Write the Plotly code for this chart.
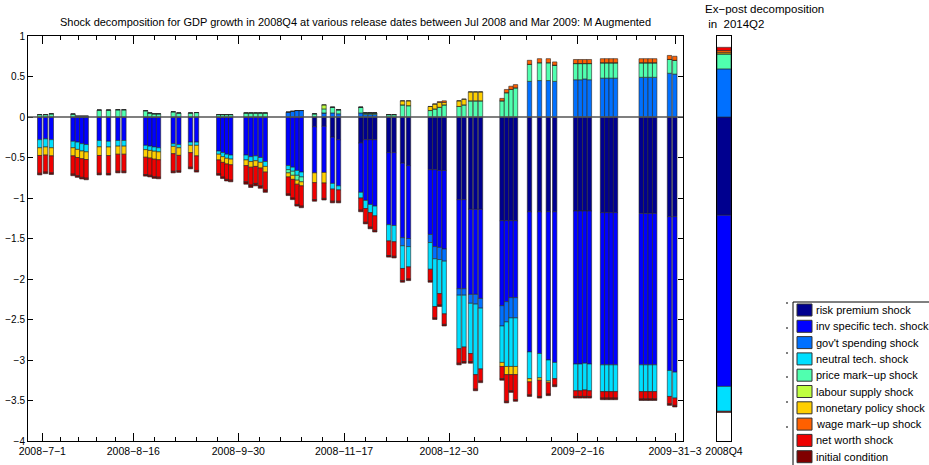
import plotly.graph_objects as go

# ---------------- data ----------------
# position of each release on the release-date axis (axis units)
release_pos = [11.7, 17.5, 23.3, 45, 49.4, 53.8, 58.2, 71.2, 80.5, 89.9, 95.9,
               117.6, 121.9, 126.2, 130.5, 145.2, 150.8, 162.5, 168.5,
               190.7, 194.7, 198.7, 202.7, 218, 222.8, 227.6, 232.4, 237.3,
               260.2, 264.6, 269, 273.3, 286.5, 296, 304.5, 310.5,
               332.8, 337.5, 342.2, 346.8, 360.7, 366, 374.5, 380.5,
               402.2, 406.8, 411.5, 416.2, 431, 436, 442.5, 447.5, 452.5,
               474, 478.5, 483, 487.5, 501.5, 511.5, 520.3, 526.7,
               547.6, 552.2, 556.8, 561.4, 574.5, 578.8, 583.2, 587.5,
               613.2, 617.7, 622.2, 626.7, 641.5, 646.8]

risk_premium = [0]*32 + [-0.12, -0.115, -0.25, -0.28, -0.32, -0.28, -0.28, -0.28, -0.44, -0.44,
                         -0.57, -0.60, -0.65, -0.65, -0.66, -0.66, -1.02, -1.02, -1.14, -1.14, -1.14,
                         -1.28, -1.28, -1.28, -1.28, -1.17, -1.17, -1.17, -1.17,
                         -1.16, -1.16, -1.16, -1.16, -1.18, -1.18, -1.18, -1.18,
                         -1.19, -1.19, -1.19, -1.19, -1.23, -1.23]
inv_specific = [-0.28, -0.27, -0.28, -0.30, -0.31, -0.33, -0.34, -0.29, -0.30, -0.29, -0.29,
                -0.35, -0.36, -0.37, -0.38, -0.33, -0.34, -0.31, -0.31,
                -0.42, -0.44, -0.46, -0.47, -0.47, -0.49, -0.48, -0.50, -0.55,
                -0.60, -0.62, -0.66, -0.68, -0.57, -0.57, -0.57, -0.57,
                -0.61, -0.75, -0.80, -0.82, -0.89, -0.90, -0.92, -0.90,
                -0.80, -0.95, -0.95, -0.97, -1.10, -1.10, -1.05, -1.05, -1.10,
                -1.05, -1.00, -0.95, -0.95, -1.73, -1.75, -1.83, -1.86,
                -1.89, -1.89, -1.88, -1.89, -1.88, -1.88, -1.88, -1.88,
                -1.87, -1.87, -1.87, -1.87, -1.90, -1.92]
gov_spending = [0]*28 + [0.06, 0.07, 0.08, 0.08, 0, 0.05, 0.05, 0.04,
                         0.05, 0.03, 0.03, 0.03, 0, 0, -0.10, -0.10,
                         -0.10, -0.15, -0.15, -0.15, -0.08, -0.08, -0.11, -0.12, -0.12,
                         -0.25, -0.25, -0.25, -0.25, 0.44, 0.45, 0.45, 0.44,
                         0.46, 0.46, 0.47, 0.46, 0.48, 0.48, 0.48, 0.48,
                         0.49, 0.49, 0.49, 0.49, 0.54, 0.53]
neutral_tech = [-0.10, -0.10, -0.10, -0.08, -0.09, -0.09, -0.09, -0.078, -0.07, -0.07, -0.07,
                -0.053, -0.053, -0.053, -0.05, -0.033, -0.04, -0.04, -0.04,
                -0.04, -0.05, -0.05, -0.05, -0.06, -0.06, -0.06, -0.06, -0.06,
                -0.05, -0.05, -0.06, -0.06, 0, 0, -0.07, -0.05,
                -0.07, -0.10, -0.10, -0.12, -0.20, -0.20, -0.28, -0.25,
                -0.33, -0.59, -0.42, -0.65, -0.66, -0.64, -0.62, -0.87, -0.75,
                -0.45, -0.55, -0.60, -0.60, -0.33, -0.30, -0.26, -0.20,
                -0.33, -0.33, -0.33, -0.33, -0.33, -0.33, -0.33, -0.33,
                -0.33, -0.33, -0.33, -0.33, -0.32, -0.32]
price_markup = [0.03, 0.03, 0.04, 0.037, 0.01, 0.01, 0.01, 0.086, 0.086, 0.09, 0.09,
                0.078, 0.05, 0.04, 0.04, 0.065, 0.05, 0.05, 0.055,
                0.03, 0.03, 0.03, 0.03, 0.05, 0.05, 0.05, 0.05, 0.05,
                -0.04, -0.05, -0.06, -0.06, 0.04, 0.05, 0.07, 0.05,
                0.07, 0.02, 0.02, 0.02, 0.03, 0.03, 0.15, 0.14,
                0.08, 0.10, 0.12, 0.15, 0.13, 0.15, 0.20, 0.20, 0.20,
                0.20, 0.30, 0.34, 0.36, 0.21, 0.22, 0.22, 0.20,
                0.20, 0.20, 0.19, 0.20, 0.19, 0.19, 0.19, 0.19,
                0.18, 0.18, 0.18, 0.18, 0.17, 0.17]
labour_supply = [0]*33 + [0.05] + [0]*41
monetary_policy = [-0.095, -0.10, -0.10, -0.10, -0.10, -0.095, -0.095, -0.107, -0.107, -0.10, -0.10,
                   -0.094, -0.094, -0.098, -0.098, -0.09, -0.094, -0.09, -0.13,
                   -0.07, -0.07, -0.07, -0.07, -0.07, -0.07, -0.07, -0.07, -0.07,
                   -0.05, -0.05, -0.05, -0.05, -0.12, -0.13, 0, 0,
                   0, 0, 0, 0, 0, 0, 0.05, 0.06,
                   0.05, 0.06, 0.06, 0.03, 0.07, 0.07, 0.11, 0.11, 0.11,
                   -0.05, -0.10, -0.10, -0.10, -0.04, -0.03, -0.02, 0] + [0]*14
wage_markup = [0]*46 + [0.01, 0.02, 0, 0, 0, 0, 0,
                        0.03, 0.04, 0.04, 0.04, 0.05, 0.05, 0.05, 0.04] + [0.05]*14
net_worth = [-0.22, -0.21, -0.21, -0.225, -0.225, -0.23, -0.23, -0.22, -0.22, -0.21, -0.21,
             -0.213, -0.213, -0.217, -0.215, -0.217, -0.19, -0.18, -0.18,
             -0.17, -0.18, -0.19, -0.19, -0.20, -0.22, -0.21, -0.22, -0.22,
             -0.21, -0.23, -0.25, -0.25, -0.21, -0.19, -0.15, -0.14,
             -0.15, -0.17, -0.18, -0.18, -0.18, -0.18, -0.15, -0.15,
             -0.14, -0.14, -0.14, -0.13, -0.18, -0.18, -0.10, -0.18, -0.15,
             -0.15, -0.33, -0.20, -0.31, -0.16, -0.20, -0.14, -0.08,
             -0.07, -0.07, -0.08, -0.07, -0.08, -0.08, -0.08, -0.08,
             -0.09, -0.09, -0.09, -0.09, -0.09, -0.09]
initial_condition = [-0.02]*23 + [-0.03]*5 + [-0.02]*47

# ex-post decomposition of 2008Q4 (as of 2014Q2)
expost_label = ["2008Q4"]
expost_values = [-1.213, -2.113, 0.594, -0.307, 0.185, 0.0, 0.016, 0.025, 0.04, -0.015]

shock_names = ["risk premium shock", "inv specific tech. shock", "gov't spending shock",
               "neutral tech. shock", "price mark\u2212up shock", "labour supply shock",
               "monetary policy shock", "wage mark\u2212up shock", "net worth shock",
               "initial condition"]
shock_colors = ["#00008F", "#0000FF", "#0070FF", "#00DFFF", "#50FFAF",
                "#BFFF40", "#FFCF00", "#FF6000", "#EF0000", "#800000"]

major_ticks = [14.3, 105.3, 210.3, 316, 421, 549.7, 647]
major_labels = ["2008\u22127\u22121", "2008\u22128\u221216", "2008\u22129\u221230",
                "2008\u221211\u221217", "2008\u221212\u221230", "2009\u22122\u221216",
                "2009\u221231\u22123"]
minor_ticks = [32.5, 50.7, 68.9, 87.1, 126.3, 147.3, 168.3, 189.3,
               231.4, 252.6, 273.7, 294.9, 337, 358, 379, 400,
               446.7, 472.5, 498.2, 523.9, 569.2, 588.6, 608.1, 627.6]

series = [risk_premium, inv_specific, gov_spending, neutral_tech, price_markup,
          labour_supply, monetary_policy, wage_markup, net_worth, initial_condition]

FONT = "Liberation Sans Narrow, Arial Narrow, Liberation Sans, Arial, sans-serif"
W, H = 929, 465
ML, MR, MT, MB = 28, 0, 36, 24
PW, PH = W - ML - MR, H - MT - MB


def px_x(p):
    return (p - ML) / PW


def px_y(p):
    return (H - MB - p) / PH


fig = go.Figure()
for name, vals, col in zip(shock_names, series, shock_colors):
    fig.add_trace(go.Bar(x=release_pos, y=vals, name=name, width=4.4,
                         marker=dict(color=col, line=dict(color="#262626", width=0.6)),
                         showlegend=False, xaxis="x", yaxis="y"))
for name, v, col in zip(shock_names, expost_values, shock_colors):
    fig.add_trace(go.Bar(x=expost_label, y=[v], name=name, width=1.0,
                         marker=dict(color=col, line=dict(color="#262626", width=0.6)),
                         showlegend=False, xaxis="x2", yaxis="y2"))

fig.update_layout(
    width=W, height=H,
    margin=dict(l=ML, r=MR, t=MT, b=MB, autoexpand=False),
    paper_bgcolor="white", plot_bgcolor="white", barmode="relative", showlegend=False,
    font=dict(family=FONT, size=11, color="black"),
    xaxis=dict(domain=[0, px_x(683)], range=[0, 655], tickmode="array",
               tickvals=major_ticks, ticktext=major_labels, ticks="inside", ticklen=8,
               tickcolor="black", mirror="ticks", showline=True, linecolor="black",
               linewidth=1, showgrid=False, zeroline=False, automargin=False,
               tickfont=dict(family=FONT, size=10.5),
               minor=dict(tickmode="array", tickvals=minor_ticks, ticks="inside",
                          ticklen=4, tickcolor="black", showgrid=False)),
    yaxis=dict(domain=[0, 1], range=[-4, 1], tickmode="array",
               tickvals=[-4, -3.5, -3, -2.5, -2, -1.5, -1, -0.5, 0, 0.5, 1],
               ticktext=["\u22124", "\u22123.5", "\u22123", "\u22122.5", "\u22122", "\u22121.5",
                         "\u22121", "\u22120.5", "0", "0.5", "1"],
               ticks="inside", ticklen=5, tickcolor="black", mirror="ticks",
               showline=True, linecolor="black", linewidth=1, showgrid=False,
               zeroline=False, automargin=False, tickfont=dict(family=FONT, size=10),
               anchor="x"),
    xaxis2=dict(domain=[px_x(717), px_x(731)], range=[-0.5, 0.5], anchor="y2",
                showline=True, linecolor="black", linewidth=1, mirror=True,
                ticks="", showgrid=False, zeroline=False, automargin=False,
                tickfont=dict(family=FONT, size=10.5)),
    yaxis2=dict(domain=[0, 1], range=[-4, 1], anchor="x2", showticklabels=False,
                ticks="", showline=True, linecolor="black", linewidth=1, mirror=True,
                showgrid=False, zeroline=False, automargin=False),
)

# zero line over the bars
fig.add_shape(type="line", xref="x domain", yref="y", x0=0, x1=1, y0=0, y1=0,
              line=dict(color="#555555", width=1.5), layer="above")

# titles
fig.add_annotation(text="Shock decomposition for GDP growth in 2008Q4 at various release dates "
                        "between Jul 2008 and Mar 2009: M Augmented",
                   xref="paper", yref="paper", x=px_x(355), y=px_y(22), showarrow=False,
                   xanchor="center", yanchor="middle", font=dict(family=FONT, size=11))
fig.add_annotation(text="Ex\u2212post decomposition<br> in  2014Q2",
                   xref="paper", yref="paper", x=px_x(703), y=px_y(17), showarrow=False,
                   xanchor="left", yanchor="middle", align="left",
                   font=dict(family=FONT, size=11.5))

# legend (box, swatches, labels)
fig.add_shape(type="rect", xref="paper", yref="paper", x0=px_x(793), x1=px_x(935),
              y0=px_y(470), y1=px_y(302), line=dict(color="black", width=1),
              fillcolor="white", layer="above")
for yy in [303, 328, 353, 377, 402, 427]:
    fig.add_shape(type="line", xref="paper", yref="paper", x0=px_x(786), x1=px_x(788),
                  y0=px_y(yy), y1=px_y(yy), line=dict(color="black", width=1))
for i, (name, col) in enumerate(zip(shock_names, shock_colors)):
    yc = 310 + 16.3 * i
    fig.add_shape(type="rect", xref="paper", yref="paper", x0=px_x(797), x1=px_x(812),
                  y0=px_y(yc + 6), y1=px_y(yc - 6), fillcolor=col,
                  line=dict(color="#333333", width=1), layer="above")
    fig.add_annotation(text=name, xref="paper", yref="paper", x=px_x(814), y=px_y(yc),
                       xanchor="left", yanchor="middle", showarrow=False,
                       font=dict(family=FONT, size=11))

fig.write_html("out.html")
